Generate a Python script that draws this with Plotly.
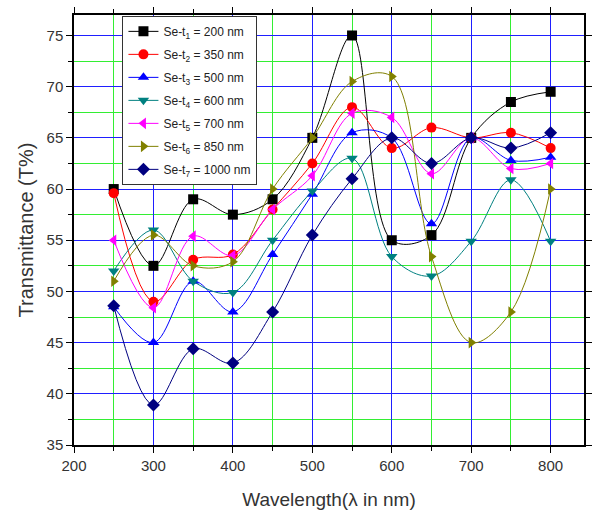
import plotly.graph_objects as go

wavelength = [250, 300, 350, 400, 450, 500, 550, 600, 650, 700, 750, 800]

t1_200nm = [60.0, 52.5, 59.0, 57.5, 59.0, 65.0, 75.0, 55.0, 55.5, 65.0, 68.5, 69.5]
t2_350nm = [59.6, 49.0, 53.1, 53.6, 58.0, 62.5, 68.0, 64.0, 66.0, 65.0, 65.5, 64.0]
t3_500nm = [48.5, 45.0, 51.0, 48.0, 53.6, 59.5, 65.5, 65.0, 56.6, 65.0, 62.8, 63.1]
t4_600nm = [52.0, 56.0, 51.0, 49.9, 55.0, 59.8, 63.0, 53.4, 51.5, 54.9, 60.9, 54.9]
t5_700nm = [55.0, 48.4, 55.4, 53.5, 58.0, 61.3, 67.4, 67.0, 61.5, 65.0, 62.0, 62.5]
t6_850nm = [51.0, 55.5, 52.5, 52.9, 60.0, 65.0, 70.5, 71.0, 53.4, 45.0, 48.0, 60.0]
t7_1000nm = [48.6, 38.9, 44.4, 43.0, 48.0, 55.5, 61.0, 65.0, 62.5, 65.0, 64.0, 65.5]

series = [
    ("Se-t<sub>1</sub> = 200 nm", t1_200nm, "#000000", "square"),
    ("Se-t<sub>2</sub> = 350 nm", t2_350nm, "#ff0000", "circle"),
    ("Se-t<sub>3</sub> = 500 nm", t3_500nm, "#0000ff", "triangle-up"),
    ("Se-t<sub>4</sub> = 600 nm", t4_600nm, "#008080", "triangle-down"),
    ("Se-t<sub>5</sub> = 700 nm", t5_700nm, "#ff00ff", "triangle-left"),
    ("Se-t<sub>6</sub> = 850 nm", t6_850nm, "#808000", "triangle-right"),
    ("Se-t<sub>7</sub> = 1000 nm", t7_1000nm, "#000080", "diamond"),
]

fig = go.Figure()
for i, (name, vals, color, sym) in enumerate(series):
    fig.add_trace(go.Scatter(
        x=wavelength, y=vals, name=name, mode="lines+markers",
        legendgroup=f"g{i}",
        line=dict(color=color, width=1, shape="spline", smoothing=1.0),
        marker=dict(symbol=sym, size=10, color=color, line=dict(width=0)),
    ))

font = "Liberation Sans, Arial, sans-serif"
fig.update_layout(
    width=593, height=512,
    margin=dict(l=74, r=1, t=15, b=67),
    paper_bgcolor="white", plot_bgcolor="white",
    font=dict(family=font, color="#333333"),
    showlegend=True,
    legend=dict(
        x=0.095, y=0.998, xanchor="left", yanchor="top",
        bgcolor="white", bordercolor="#333333", borderwidth=1,
        font=dict(size=12, family=font, color="#222222"),
        tracegroupgap=4, itemwidth=30,
    ),
    xaxis=dict(
        range=[200, 842], dtick=100, tick0=200,
        showline=True, linecolor="black", linewidth=1.5, mirror="ticks",
        ticks="outside", ticklen=6, tickcolor="black",
        showgrid=True, gridcolor="#1f1fff", gridwidth=1,
        minor=dict(dtick=50, showgrid=True, gridcolor="#33ee33", gridwidth=1,
                   ticks="outside", ticklen=4, tickcolor="black"),
        tickfont=dict(size=15, family=font),
        title=dict(text="Wavelength(λ in nm)", font=dict(size=19, family=font), standoff=20),
        zeroline=False,
    ),
    yaxis=dict(
        range=[35, 77], dtick=5, tick0=35,
        showline=True, linecolor="black", linewidth=1.5, mirror="ticks",
        ticks="outside", ticklen=6, tickcolor="black",
        showgrid=True, gridcolor="#1f1fff", gridwidth=1,
        minor=dict(dtick=2.5, showgrid=True, gridcolor="#33ee33", gridwidth=1,
                   ticks="outside", ticklen=4, tickcolor="black"),
        tickfont=dict(size=15, family=font),
        title=dict(text="Transmittance (T%)", font=dict(size=20, family=font), standoff=8),
        zeroline=False,
    ),
)

fig.write_html("out.html")
